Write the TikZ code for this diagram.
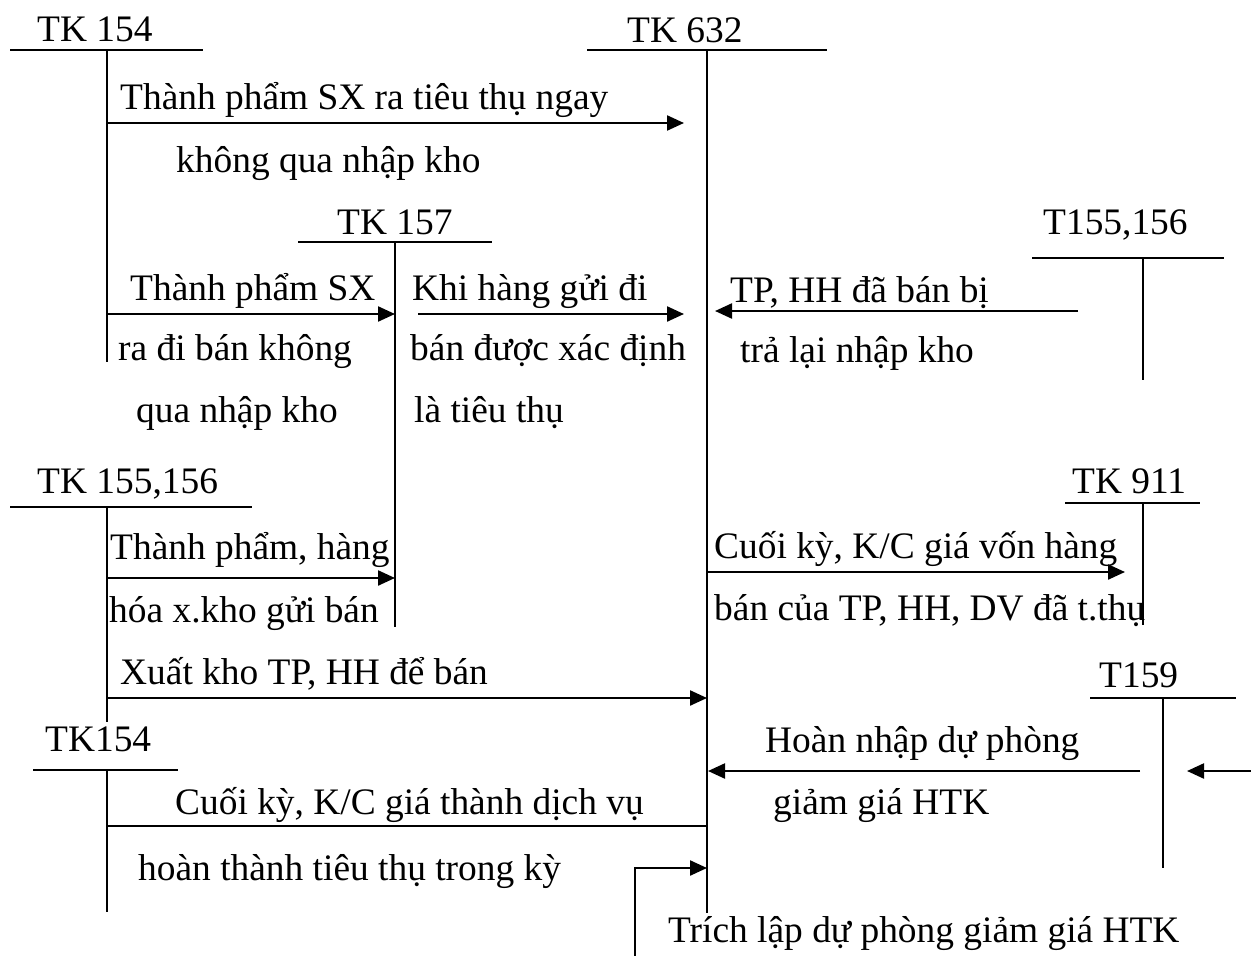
\documentclass[tikz,border=0pt]{standalone}
\usepackage{fontspec}
\setmainfont{Liberation Serif}
\usepackage{xcolor}
\usepackage{tikz}
\usetikzlibrary{arrows.meta, positioning, calc}

\tikzset{
    acct/.style={line width=2.3pt},
    flow/.style={line width=2.3pt, -{Triangle[length=17pt,width=15pt]}},
    txt/.style={anchor=base west, inner sep=0pt, font=\fontsize{37.4}{44}\selectfont}
}

\begin{document}
\begin{tikzpicture}[x=1pt, y=-1pt]
    \useasboundingbox (0,0) rectangle (1251,956);

    % T-accounts: corner coordinates
    \coordinate (A1) at (10,50);    \coordinate (B1) at (203,50);
    \coordinate (C1) at (107,50);   \coordinate (D1) at (107,362);
    \coordinate (A2) at (587,50);   \coordinate (B2) at (827,50);
    \coordinate (C2) at (707,50);   \coordinate (D2) at (707,913);
    \coordinate (A3) at (298,242);  \coordinate (B3) at (492,242);
    \coordinate (C3) at (395,242);  \coordinate (D3) at (395,627);
    \coordinate (A4) at (1032,258); \coordinate (B4) at (1224,258);
    \coordinate (C4) at (1143,258); \coordinate (D4) at (1143,380);
    \coordinate (A5) at (10,507);   \coordinate (B5) at (252,507);
    \coordinate (C5) at (107,507);  \coordinate (D5) at (107,722);
    \coordinate (A6) at (1065,503); \coordinate (B6) at (1200,503);
    \coordinate (C6) at (1143,503); \coordinate (D6) at (1143,625);
    \coordinate (A7) at (1090,698); \coordinate (B7) at (1236,698);
    \coordinate (C7) at (1163,698); \coordinate (D7) at (1163,868);
    \coordinate (A8) at (33,770);   \coordinate (B8) at (178,770);
    \coordinate (C8) at (107,770);  \coordinate (D8) at (107,912);
    \foreach \i in {1,...,8} {
        \draw[acct] (A\i)--(B\i);
        \draw[acct] (C\i)--(D\i);
    }

    % account names
    \node[txt] (tk154a) at (37,41) {TK 154};
    \node[txt] (tk632) at (627,42) {TK 632};
    \node[txt] (tk157) at (337,234) {TK 157};
    \node[txt] (t155r) at (1043,234) {T155,156};
    \node[txt] (tk155l) at (37,493) {TK 155,156};
    \node[txt] (tk911) at (1072,493) {TK 911};
    \node[txt] (t159) at (1099,687) {T159};
    \node[txt] (tk154b) at (45,751) {TK154};

    % entry texts
    \node[txt] (e1a) at (120,109) {Thành phẩm SX ra tiêu thụ ngay};
    \node[txt] (e1b) at (176,172) {không qua nhập kho};
    \node[txt] (e2a) at (130,300) {Thành phẩm SX};
    \node[txt] (e2b) at (118,360) {ra đi bán không};
    \node[txt] (e2c) at (136,422) {qua nhập kho};
    \node[txt] (e3a) at (412,300) {Khi hàng gửi đi};
    \node[txt] (e3b) at (410,360) {bán được xác định};
    \node[txt] (e3c) at (414,422) {là tiêu thụ};
    \node[txt] (e4a) at (730,302) {TP, HH đã bán bị};
    \node[txt] (e4b) at (740,362) {trả lại nhập kho};
    \node[txt] (e5a) at (110,559) {Thành phẩm, hàng};
    \node[txt] (e5b) at (109,622) {hóa x.kho gửi bán};
    \node[txt] (e6a) at (714,558) {Cuối kỳ, K/C giá vốn hàng};
    \node[txt] (e6b) at (714,620) {bán của TP, HH, DV đã t.thụ};
    \node[txt] (e7) at (120,684) {Xuất kho TP, HH để bán};
    \node[txt] (e8a) at (765,752) {Hoàn nhập dự phòng};
    \node[txt] (e8b) at (773,814) {giảm giá HTK};
    \node[txt] (e9a) at (175,814) {Cuối kỳ, K/C giá thành dịch vụ};
    \node[txt] (e9b) at (138,880) {hoàn thành tiêu thụ trong kỳ};
    \node[txt] (e10) at (668,942) {Trích lập dự phòng giảm giá HTK};

    % arrow ends
    \coordinate (f1s) at (107,123);  \coordinate (f1e) at (684,123);
    \coordinate (f2s) at (107,314);  \coordinate (f2e) at (395,314);
    \coordinate (f3s) at (418,314);  \coordinate (f3e) at (684,314);
    \coordinate (f4s) at (1078,311); \coordinate (f4e) at (715,311);
    \coordinate (f5s) at (107,578);  \coordinate (f5e) at (395,578);
    \coordinate (f6s) at (707,572);  \coordinate (f6e) at (1125,572);
    \coordinate (f7s) at (107,698);  \coordinate (f7e) at (707,698);
    \coordinate (f8s) at (1140,771); \coordinate (f8e) at (708,771);
    \coordinate (f9s) at (1251,771); \coordinate (f9e) at (1187,771);
    \coordinate (f10s) at (107,826); \coordinate (f10e) at (707,826);
    \coordinate (f11s) at (635,956); \coordinate (f11e) at (707,868);

    \foreach \i in {1,...,9} \draw[flow] (f\i s)--(f\i e);
    \draw[acct] (f10s)--(f10e);
    \draw[flow] (f11s) |- (f11e);
\end{tikzpicture}
\end{document}
